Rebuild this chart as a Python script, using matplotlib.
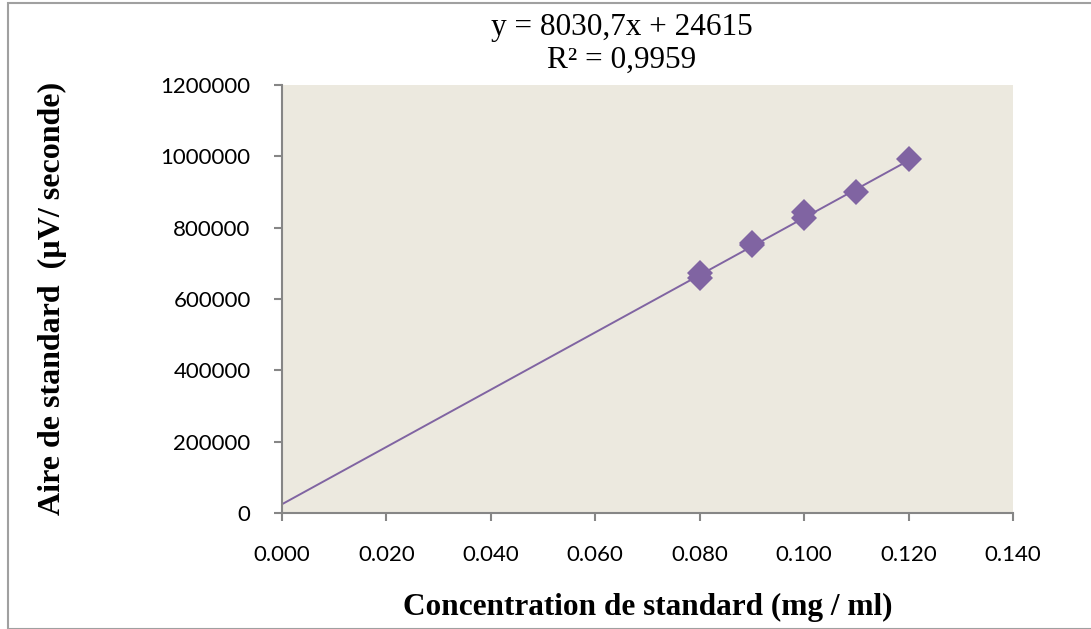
import matplotlib
matplotlib.use('agg')
import numpy as np
import matplotlib.pyplot as plt
from matplotlib.patches import Rectangle

# Points d'étalonnage (concentration en mg/ml, aire en µV/s)
concentration = [0.08, 0.08, 0.09, 0.09, 0.10, 0.10, 0.11, 0.12]
aire = [660000, 672000, 752000, 758000, 828000, 845000, 900000, 992000]

# Droite de tendance : y = 8030,7x + 24615 (x en µg/ml)
pente = 8030.7
ordonnee = 24615
r2 = 0.9959

x_ticks = [0.000, 0.020, 0.040, 0.060, 0.080, 0.100, 0.120, 0.140]
y_ticks = [0, 200000, 400000, 600000, 800000, 1000000, 1200000]

violet = '#8064A2'
gris = '#868686'

fig = plt.figure(figsize=(10.91, 6.29), dpi=100)
ax = fig.add_axes([282 / 1091, 116 / 629, 731 / 1091, 428 / 629])
ax.set_facecolor('#ECE9DF')

x_ligne = np.array([0.0, 0.12])
ax.plot(x_ligne, pente * x_ligne * 1000 + ordonnee, color=violet, lw=1.4, zorder=2)
ax.plot(concentration, aire, 'D', color=violet, markersize=13, markeredgewidth=0, zorder=3)

ax.set_xlim(0, 0.14)
ax.set_ylim(0, 1200000)
ax.set_xticks(x_ticks)
ax.set_yticks(y_ticks)
ax.set_xticklabels(['%.3f' % v for v in x_ticks])
ax.set_yticklabels([str(v) for v in y_ticks])

for s in ['top', 'right']:
    ax.spines[s].set_visible(False)
for s in ['left', 'bottom']:
    ax.spines[s].set_color(gris)
    ax.spines[s].set_linewidth(1.5)
ax.tick_params(axis='both', direction='out', length=6, width=1.5, color=gris,
               labelsize=16, labelcolor='black')
ax.tick_params(axis='x', pad=17)
ax.tick_params(axis='y', pad=16.5)
for lab in ax.get_xticklabels() + ax.get_yticklabels():
    lab.set_family('Lato')

serif = ['Liberation Serif', 'DejaVu Serif']
ax.set_xlabel('Concentration de standard (mg / ml)', fontsize=22.5, fontweight='bold',
              family=serif, labelpad=20)
fig.text(52 / 1091, 1 - 298 / 629, 'Aire de standard  (µV/ seconde)', rotation=90,
         ha='center', va='center', fontsize=23, fontweight='bold', family=serif)

fig.text(622 / 1091, 1 - 28 / 629, 'y = 8030,7x + 24615', ha='center', va='center',
         fontsize=22.5, family=serif)
fig.text(622 / 1091, 1 - 60 / 629, 'R² = %s' % str(r2).replace('.', ','),
         ha='center', va='center', fontsize=22.5, family=serif)

# Cadre du graphique
fig.patches.append(Rectangle((8 / 1091, 0.2 / 629), 1.1, 626 / 629, transform=fig.transFigure,
                             fill=False, edgecolor='#A0A0A0', lw=1.5))

fig.savefig('out.png', dpi=100)
